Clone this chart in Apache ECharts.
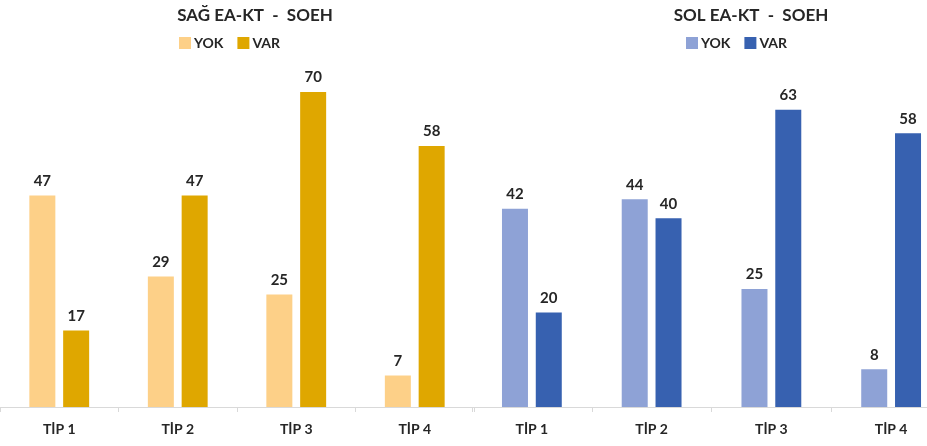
<!DOCTYPE html>
<html>
<head>
<meta charset="utf-8">
<script src="https://cdn.jsdelivr.net/npm/echarts@6/dist/echarts.min.js"></script>
<style>
  html, body { margin: 0; padding: 0; background: #fff; overflow: hidden; }
  /* sağdaki grafik pencerenin dışına biraz taşıyor */
  #main { width: 951px; height: 446px; }
</style>
</head>
<body>
<div id="main"></div>
<script>
let categories = ['TİP 1', 'TİP 2', 'TİP 3', 'TİP 4'];
let sagYok = [47, 29, 25, 7];
let sagVar = [17, 47, 70, 58];
let solYok = [42, 44, 25, 8];
let solVar = [20, 40, 63, 58];

let fontName = 'Lato';
let textColor = '#262626';

let myChart = echarts.init(document.getElementById('main'));

// x eksenleri (iki grafik yan yana)
function xAxisFor(gridIndex) {
    return {
        type: 'category',
        gridIndex: gridIndex,
        data: categories,
        axisLine: { lineStyle: { color: '#d9d9d9', width: 1 } },
        axisTick: { show: true, length: 5, lineStyle: { color: '#d9d9d9' } },
        axisLabel: {
            margin: 15,
            color: textColor,
            fontFamily: fontName,
            fontWeight: 'bold',
            fontSize: 14
        }
    };
}

function yAxisFor(gridIndex, max) {
    return {
        type: 'value',
        gridIndex: gridIndex,
        min: 0,
        max: max,
        show: false,
        splitLine: { show: false }
    };
}

function barSeries(name, data, color, idx) {
    return {
        name: name,
        type: 'bar',
        xAxisIndex: idx,
        yAxisIndex: idx,
        data: data,
        barWidth: 26,
        barGap: '30%',
        itemStyle: { color: color },
        label: {
            show: true,
            position: 'top',
            distance: 7,
            color: textColor,
            fontFamily: fontName,
            fontWeight: 'bold',
            fontSize: 15
        }
    };
}

let legendBase = {
    itemWidth: 12,
    itemHeight: 12,
    itemGap: 14,
    icon: 'rect',
    textStyle: { color: textColor, fontFamily: fontName, fontWeight: 'bold', fontSize: 14, padding: [0, 0, 0, -2] },
    formatter: function (name) { return name.split(' ')[1]; }
};

let option = {
    animation: false,
    title: [
        {
            text: 'SAĞ EA-KT  -  SOEH',
            left: 250, top: 2, textAlign: 'center',
            textStyle: { color: textColor, fontFamily: fontName, fontWeight: 'bold', fontSize: 17 }
        },
        {
            text: 'SOL EA-KT  -  SOEH',
            left: 746, top: 2, textAlign: 'center',
            textStyle: { color: textColor, fontFamily: fontName, fontWeight: 'bold', fontSize: 17 }
        }
    ],
    legend: [
        Object.assign({}, legendBase, { data: ['SAĞ YOK', 'SAĞ VAR'], left: 174, top: 31 }),
        Object.assign({}, legendBase, { data: ['SOL YOK', 'SOL VAR'], left: 681, top: 31 })
    ],
    grid: [
        { left: -2, width: 476, top: 47, bottom: 39 },
        { left: 472, width: 479, top: 53, bottom: 39 }
    ],
    xAxis: [xAxisFor(0), xAxisFor(1)],
    yAxis: [yAxisFor(0, 80), yAxisFor(1, 75)],
    series: [
        barSeries('SAĞ YOK', sagYok, '#fdd088', 0),
        barSeries('SAĞ VAR', sagVar, '#dfa700', 0),
        barSeries('SOL YOK', solYok, '#8ea2d6', 1),
        barSeries('SOL VAR', solVar, '#3761b0', 1)
    ]
};

myChart.setOption(option);
</script>
</body>
</html>
